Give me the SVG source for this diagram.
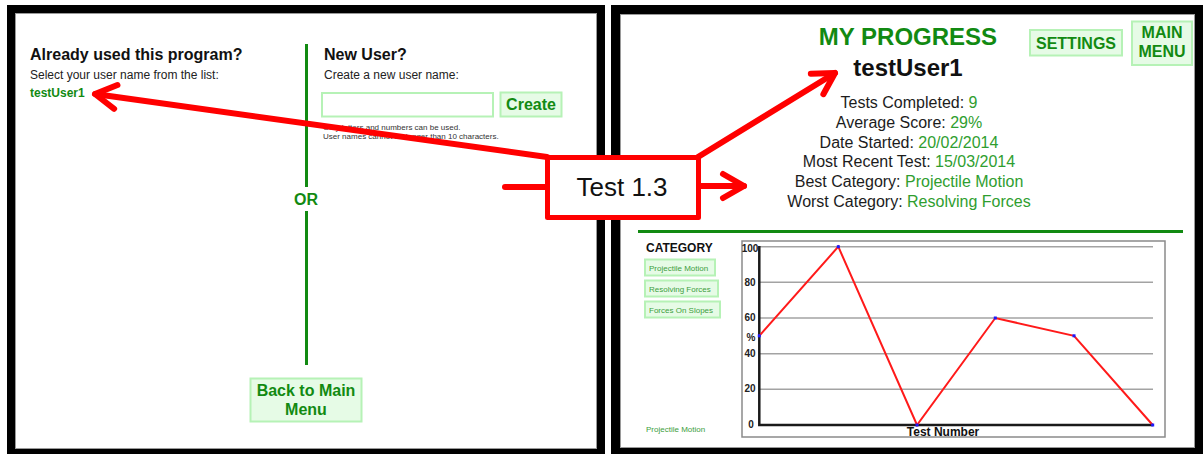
<svg xmlns="http://www.w3.org/2000/svg" width="1203" height="454" viewBox="0 0 1203 454">
  <style>
    text { font-family: "Liberation Sans", Arial, sans-serif; }
    .frame { fill: #000; }
    .screen { fill: #fff; stroke: #9a9a9a; stroke-width: 1; }
    .h1 { font-size: 16px; font-weight: bold; fill: #111; }
    .lbl { font-size: 12px; fill: #222; }
    .tiny { font-size: 8px; fill: #333; }
    .gbold { font-weight: bold; fill: #128a12; }
    .btn { fill: #e6fbe6; stroke: #b6f2b6; stroke-width: 2; }
    .stat { font-size: 16px; fill: #1c1c1c; text-anchor: middle; }
    .val { fill: #2f9e2f; }
    .cat { font-size: 8px; fill: #3d9e3d; }
    .grid { stroke: #a3a3a3; stroke-width: 1.6; }
    .axis { stroke: #1a1a1a; stroke-width: 2.5; fill: none; }
    .tick { font-size: 10px; font-weight: bold; fill: #222; text-anchor: middle; }
    .pt { fill: #1a1aff; }
    .red { stroke: #ff0000; stroke-width: 6; fill: none; stroke-linecap: round; }
  </style>
  <defs>
    <marker id="chev" markerUnits="userSpaceOnUse" viewBox="-30 -20 40 40" markerWidth="40" markerHeight="40" refX="0" refY="0" orient="auto" overflow="visible">
      <path d="M -21,-12 L 0,0 L -21,12" fill="none" stroke="#ff0000" stroke-width="6" stroke-linecap="round" stroke-linejoin="round"/>
    </marker>
  </defs>

  <rect width="1203" height="454" fill="#fff"/>

  <!-- Login screen -->
  <g id="login-screen">
    <rect class="frame" x="7" y="5" width="598" height="449"/>
    <rect class="screen" x="15.5" y="13.5" width="581" height="435"/>
    <text class="h1" x="30" y="60">Already used this program?</text>
    <text class="lbl" x="30" y="79">Select your user name from the list:</text>
    <text class="gbold" x="30" y="97" font-size="12">testUser1</text>

    <line x1="306.5" y1="44" x2="306.5" y2="187" stroke="#128a12" stroke-width="3"/>
    <text class="gbold" x="306" y="205" font-size="16" text-anchor="middle">OR</text>
    <line x1="306.5" y1="211" x2="306.5" y2="365" stroke="#128a12" stroke-width="3"/>

    <text class="h1" x="324" y="60">New User?</text>
    <text class="lbl" x="324" y="79">Create a new user name:</text>
    <rect x="322" y="93" width="171" height="23.5" fill="#fff" stroke="#b6f2b6" stroke-width="2"/>
    <rect class="btn" x="500.5" y="92.5" width="61" height="24"/>
    <text class="gbold" x="531" y="110" font-size="16" text-anchor="middle">Create</text>
    <text class="tiny" x="323" y="130">Only letters and numbers can be used.</text>
    <text class="tiny" x="323" y="139">User names cannot be longer than 10 characters.</text>

    <rect class="btn" x="250.5" y="378.5" width="111" height="43"/>
    <text class="gbold" x="306" y="396" font-size="16" text-anchor="middle">Back to Main</text>
    <text class="gbold" x="306" y="415" font-size="16" text-anchor="middle">Menu</text>
  </g>

  <!-- Progress screen -->
  <g id="progress-screen">
    <rect class="frame" x="611" y="5" width="592" height="449"/>
    <rect class="screen" x="620.5" y="14.5" width="574" height="433"/>
    <text class="gbold" x="908" y="45" font-size="24" text-anchor="middle">MY PROGRESS</text>
    <text x="908" y="76" font-size="24" font-weight="bold" fill="#111" text-anchor="middle">testUser1</text>

    <rect class="btn" x="1030" y="30" width="92" height="25.5"/>
    <text class="gbold" x="1076" y="49" font-size="16" text-anchor="middle">SETTINGS</text>
    <rect class="btn" x="1132" y="21.5" width="60" height="43.5"/>
    <text class="gbold" x="1162" y="38" font-size="16" text-anchor="middle">MAIN</text>
    <text class="gbold" x="1162" y="57" font-size="16" text-anchor="middle">MENU</text>

    <text class="stat" x="909" y="108">Tests Completed: <tspan class="val">9</tspan></text>
    <text class="stat" x="909" y="128">Average Score: <tspan class="val">29%</tspan></text>
    <text class="stat" x="909" y="148">Date Started: <tspan class="val">20/02/2014</tspan></text>
    <text class="stat" x="909" y="167">Most Recent Test: <tspan class="val">15/03/2014</tspan></text>
    <text class="stat" x="909" y="187">Best Category: <tspan class="val">Projectile Motion</tspan></text>
    <text class="stat" x="909" y="207">Worst Category: <tspan class="val">Resolving Forces</tspan></text>

    <line x1="638" y1="231.5" x2="1183" y2="231.5" stroke="#128a12" stroke-width="3"/>

    <text x="646" y="252" font-size="12" font-weight="bold" fill="#111">CATEGORY</text>
    <rect class="btn" x="645" y="259.5" width="70" height="16" stroke-width="1.5"/>
    <text class="cat" x="649" y="270.5">Projectile Motion</text>
    <rect class="btn" x="645" y="280.5" width="73" height="16" stroke-width="1.5"/>
    <text class="cat" x="649" y="291.5">Resolving Forces</text>
    <rect class="btn" x="645" y="301.5" width="75" height="16" stroke-width="1.5"/>
    <text class="cat" x="649" y="312.5">Forces On Slopes</text>
    <text class="cat" x="646" y="432">Projectile Motion</text>

    <!-- score chart -->
    <g id="score-chart">
      <rect x="742" y="241" width="423" height="196" fill="#fff" stroke="#8a8a8a" stroke-width="1.5"/>
      <line class="grid" x1="759" y1="246.7" x2="1153" y2="246.7"/>
      <line class="grid" x1="759" y1="282.3" x2="1153" y2="282.3"/>
      <line class="grid" x1="759" y1="318" x2="1153" y2="318"/>
      <line class="grid" x1="759" y1="353.7" x2="1153" y2="353.7"/>
      <line class="grid" x1="759" y1="389.3" x2="1153" y2="389.3"/>
      <path class="axis" d="M759.3,246 V425 H1153"/>
      <text class="tick" x="750" y="252">100</text>
      <text class="tick" x="750" y="286">80</text>
      <text class="tick" x="750" y="321">60</text>
      <text class="tick" x="751" y="341" font-size="12">%</text>
      <text class="tick" x="750" y="357">40</text>
      <text class="tick" x="750" y="392">20</text>
      <text class="tick" x="751" y="428">0</text>
      <polyline points="759.3,335.8 838.3,246.7 917,425 995.3,318 1074,335.8 1152.7,425" fill="none" stroke="#ff1a1a" stroke-width="2"/>
      <rect class="pt" x="757.8" y="334.3" width="3" height="3"/>
      <rect class="pt" x="836.8" y="245.2" width="3" height="3"/>
      <rect class="pt" x="915.5" y="423.5" width="3" height="3"/>
      <rect class="pt" x="993.8" y="316.5" width="3" height="3"/>
      <rect class="pt" x="1072.5" y="334.3" width="3" height="3"/>
      <rect class="pt" x="1151.2" y="423.5" width="3" height="3"/>
      <text x="943" y="436" font-size="12" font-weight="bold" fill="#111" text-anchor="middle">Test Number</text>
    </g>
  </g>

  <!-- Connectors -->
  <g id="connectors">
    <line class="red" x1="505" y1="187" x2="545" y2="187" stroke-linecap="butt"/>
    <line class="red" x1="547" y1="157" x2="95" y2="94" marker-end="url(#chev)"/>
    <line class="red" x1="698" y1="157" x2="835" y2="73" marker-end="url(#chev)"/>
    <line class="red" x1="700" y1="186" x2="744" y2="186" marker-end="url(#chev)"/>
  </g>

  <!-- Test label -->
  <g id="test-box">
    <rect x="547.5" y="157.5" width="151" height="60" fill="#fff" stroke="#ff0000" stroke-width="5" stroke-linejoin="round"/>
    <text x="622" y="196" font-family="Lato, 'Open Sans', sans-serif" font-size="26" fill="#111" text-anchor="middle">Test 1.3</text>
  </g>
</svg>
